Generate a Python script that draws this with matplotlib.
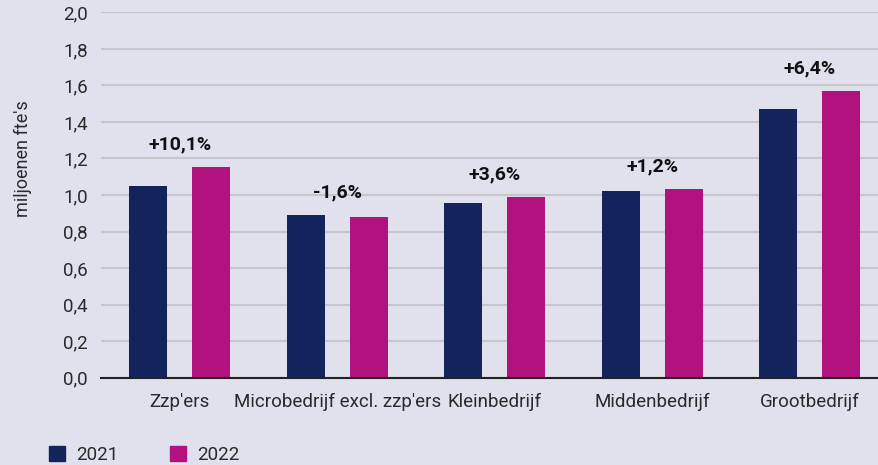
import matplotlib.pyplot as plt
import numpy as np
from matplotlib.patches import Patch

categories = ["Zzp'ers", "Microbedrijf excl. zzp'ers", "Kleinbedrijf", "Middenbedrijf", "Grootbedrijf"]
fte_2021 = [1.049, 0.890, 0.956, 1.022, 1.471]
fte_2022 = [1.153, 0.878, 0.989, 1.033, 1.570]
changes = ["+10,1%", "-1,6%", "+3,6%", "+1,2%", "+6,4%"]
yticks = [0.0, 0.2, 0.4, 0.6, 0.8, 1.0, 1.2, 1.4, 1.6, 1.8, 2.0]

bg = "#E1E1EE"
navy = "#13235B"
magenta = "#B2127D"
textcol = "#2A2A2A"

plt.rcParams["font.family"] = ["Roboto", "DejaVu Sans"]

fig = plt.figure(figsize=(8.79, 4.65), dpi=100, facecolor=bg)
ax = fig.add_axes([0.1149, 0.1877, 0.8959, 0.7858])
ax.set_facecolor(bg)

x = np.arange(len(categories))
ax.bar(x - 0.2, fte_2021, width=0.24, color=navy, zorder=3)
ax.bar(x + 0.2, fte_2022, width=0.24, color=magenta, zorder=3)

for i, lab in enumerate(changes):
    top = max(fte_2021[i], fte_2022[i])
    ax.text(x[i], top + 0.125, lab, ha="center", va="center",
            fontsize=14, fontweight="bold", color="#111111")

ax.set_xlim(-0.5, len(categories) - 0.5)
ax.set_ylim(0, 2.0)
ax.set_yticks(yticks)
ax.set_yticklabels([f"{v:.1f}".replace(".", ",") for v in yticks])
ax.set_xticks(x)
ax.set_xticklabels(categories)
ax.tick_params(axis="both", length=0, labelsize=13.5, colors=textcol)
ax.tick_params(axis="y", pad=9.5)
ax.tick_params(axis="x", pad=11)
ax.yaxis.grid(True, color="#C6C6CC", linewidth=1.5, zorder=0)
for s in ["top", "right", "left"]:
    ax.spines[s].set_visible(False)
ax.spines["bottom"].set_color("#222222")
ax.spines["bottom"].set_linewidth(1.5)
ax.spines["bottom"].set_zorder(4)

ax.set_ylabel("miljoenen fte's", fontsize=13, color=textcol)
ax.yaxis.set_label_coords(-0.088, 0.6)

handles = [Patch(color=navy, label="2021"), Patch(color=magenta, label="2022")]
fig.legend(handles=handles, loc="lower left", bbox_to_anchor=(0.037, -0.035), ncol=2,
           frameon=False, fontsize=13.5, handlelength=0.85, handleheight=0.85,
           handletextpad=0.55, columnspacing=2.8, labelcolor=textcol)

fig.savefig("out.png", dpi=100, facecolor=bg)
